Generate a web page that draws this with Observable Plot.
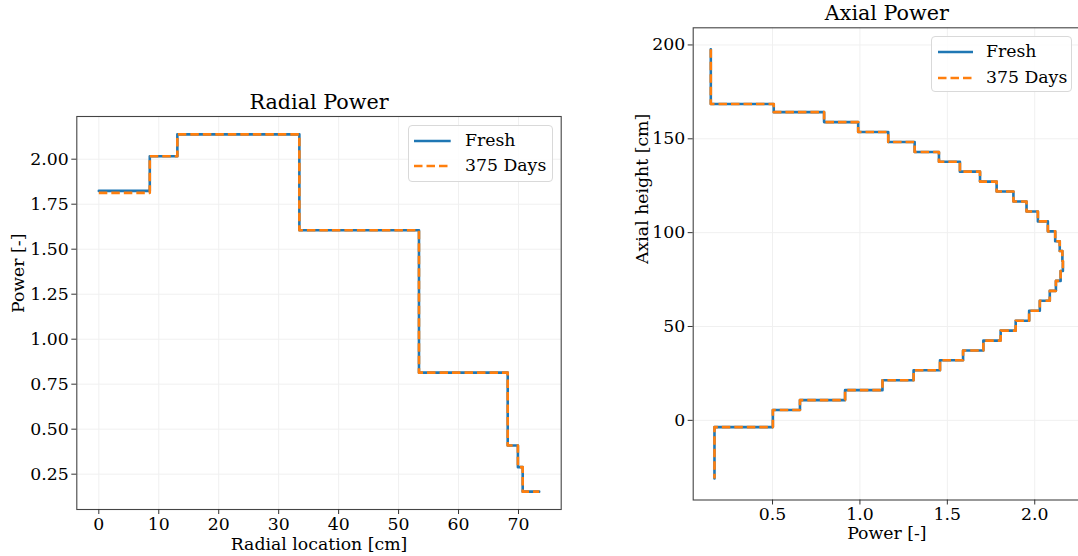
<!DOCTYPE html>
<html>
<head>
<meta charset="utf-8">
<script src="https://cdn.jsdelivr.net/npm/d3@7"></script>
<script src="https://cdn.jsdelivr.net/npm/@observablehq/plot@0.6"></script>
<style>
  html, body { margin: 0; padding: 0; background: #fff; }
  #fig { position: relative; width: 1078px; height: 556px; overflow: hidden; font-family: "DejaVu Serif", serif; }
  #fig > svg { position: absolute; top: 0; }
  .legend { position: absolute; box-sizing: border-box; background: rgba(255,255,255,0.85);
            border: 1px solid #d9d9d9; border-radius: 4px; }
  .legend .row { position: absolute; left: 0; right: 0; height: 0; }
  .legend .row svg { position: absolute; top: -3px; overflow: visible; }
  .legend .row span { position: absolute; top: 0; transform: translateY(-50%); font-size: 17.3px; color: #000; white-space: nowrap; line-height: 1; }
</style>
</head>
<body>
<div id="fig"></div>
<script>
// ---- Radial power: bin edges [cm] and relative power per bin ----
const radialEdge = [0, 8.5, 13.1, 33.45, 53.4, 68.2, 69.9, 70.7, 73.45];
const radialFresh = [1.824, 2.016, 2.138, 1.605, 0.814, 0.409, 0.289, 0.153, 0.153];
const radialDays375 = [1.813, 2.016, 2.138, 1.605, 0.814, 0.409, 0.289, 0.153, 0.153];
const radialXTicks = [0, 10, 20, 30, 40, 50, 60, 70];
const radialYTicks = [0.25, 0.5, 0.75, 1.0, 1.25, 1.5, 1.75, 2.0];

// ---- Axial power: node heights [cm], top to bottom, and power per axial node ----
const axialHeight = [197.7, 168.5, 164.2, 158.9, 153.6, 148.3, 143.0, 137.8, 132.5, 127.2,
  121.9, 116.6, 111.3, 106.0, 100.7, 95.4, 90.2, 84.9, 79.6, 74.3, 69.0, 63.7, 58.4, 53.1,
  47.8, 42.5, 37.2, 32.0, 26.7, 21.4, 16.1, 10.8, 5.5, -3.6, -31.0];
const axialFresh = [0.147, 0.507, 0.795, 0.990, 1.162, 1.313, 1.452, 1.572, 1.687, 1.782,
  1.878, 1.953, 2.018, 2.075, 2.117, 2.143, 2.158, 2.161, 2.148, 2.121, 2.086, 2.029, 1.968,
  1.891, 1.805, 1.706, 1.590, 1.458, 1.307, 1.129, 0.915, 0.657, 0.502, 0.168];
const axialDays375 = [0.147, 0.507, 0.795, 0.990, 1.162, 1.313, 1.452, 1.572, 1.687, 1.782,
  1.878, 1.953, 2.018, 2.075, 2.117, 2.143, 2.158, 2.161, 2.148, 2.121, 2.086, 2.029, 1.968,
  1.891, 1.805, 1.706, 1.590, 1.458, 1.307, 1.129, 0.915, 0.657, 0.502, 0.168];
const axialXTicks = [0.5, 1.0, 1.5, 2.0];
const axialYTicks = [0, 50, 100, 150, 200];

const seriesNames = ["Fresh", "375 Days"];
const FRESH = "#1f77b4", DAYS = "#ff7f0e";
const LW = 2.6, DASH = "8.5,4";
const FS = 17.3;

// padded extent, like matplotlib's default 5% axis margins
function padded(values) {
  const [a, b] = d3.extent(values);
  const m = (b - a) * 0.05;
  return [a - m, b + m];
}

// radial: one point per edge (step-after)
const radialPts = (vals) => radialEdge.map((x, i) => ({x, y: vals[i]}));
// axial: vertical segments at each node's power, last node closed at the bottom end
const axialPts = (vals) => {
  const pts = vals.map((p, i) => ({p, h: axialHeight[i]}));
  pts.push({p: vals[vals.length - 1], h: axialHeight[axialHeight.length - 1]});
  return pts;
};

function panel(o) {
  return Plot.plot({
    width: o.width, height: o.height,
    marginLeft: o.ml, marginRight: o.mr, marginTop: o.mt, marginBottom: o.mb,
    x: {domain: o.xDomain},
    y: {domain: o.yDomain},
    style: {fontFamily: "DejaVu Serif", fontSize: FS + "px", background: "transparent", color: "#000", overflow: "visible"},
    marks: [
      Plot.gridX(o.xTicks, {stroke: "#f0f0f0", strokeOpacity: 1, strokeWidth: 1}),
      Plot.gridY(o.yTicks, {stroke: "#f0f0f0", strokeOpacity: 1, strokeWidth: 1}),
      Plot.frame({stroke: "#444", strokeWidth: 1.1}),
      Plot.axisX(o.xTicks, {tickSize: 5, tickPadding: 3, tickFormat: o.xFmt, label: null, fontSize: FS, stroke: "#333"}),
      Plot.axisY(o.yTicks, {tickSize: 5, tickPadding: 3, tickFormat: o.yFmt, label: null, fontSize: FS, stroke: "#333"}),
      ...o.lines,
      Plot.text([o.title], {text: d => d, frameAnchor: "top", dy: -8, lineAnchor: "bottom", fontSize: 20.7}),
      Plot.text([o.xLabel], {text: d => d, frameAnchor: "bottom", dy: o.xLabelDy, lineAnchor: "middle", fontSize: FS}),
      Plot.text([o.yLabel], {text: d => d, frameAnchor: "left", dx: o.yLabelDx, rotate: -90, lineAnchor: "middle", fontSize: FS})
    ]
  });
}

const fig = document.getElementById("fig");

// Radial power panel
const left = panel({
  width: 600, height: 556, ml: 76.3, mr: 39.3, mt: 116, mb: 47,
  xDomain: padded(radialEdge),
  yDomain: padded(radialFresh.concat(radialDays375)),
  xTicks: radialXTicks, yTicks: radialYTicks,
  xFmt: d3.format("d"), yFmt: d3.format(".2f"),
  title: "Radial Power", xLabel: "Radial location [cm]", yLabel: "Power [-]",
  xLabelDy: 35, yLabelDx: -58,
  lines: [
    Plot.line(radialPts(radialFresh), {x: "x", y: "y", curve: "step-after", stroke: FRESH, strokeWidth: LW}),
    Plot.line(radialPts(radialDays375), {x: "x", y: "y", curve: "step-after", stroke: DAYS, strokeWidth: LW, strokeDasharray: DASH, strokeLinecap: "butt"})
  ]
});
left.style.left = "0px";
fig.appendChild(left);

// Axial power panel
const right = panel({
  width: 490, height: 556, ml: 92.7, mr: 10, mt: 27.3, mb: 56.5,
  xDomain: padded(axialFresh.concat(axialDays375)),
  yDomain: padded(axialHeight),
  xTicks: axialXTicks, yTicks: axialYTicks,
  xFmt: d3.format(".1f"), yFmt: d3.format("d"),
  title: "Axial Power", xLabel: "Power [-]", yLabel: "Axial height [cm]",
  xLabelDy: 33, yLabelDx: -51,
  lines: [
    Plot.line(axialPts(axialFresh), {x: "p", y: "h", curve: "step-before", stroke: FRESH, strokeWidth: LW}),
    Plot.line(axialPts(axialDays375), {x: "p", y: "h", curve: "step-before", stroke: DAYS, strokeWidth: LW, strokeDasharray: DASH, strokeLinecap: "butt"})
  ]
});
right.style.left = "600px";
fig.appendChild(right);

// Legends
function legend(box) {
  const div = document.createElement("div");
  div.className = "legend";
  Object.assign(div.style, {left: box.x + "px", top: box.y + "px", width: box.w + "px", height: box.h + "px"});
  seriesNames.forEach((name, i) => {
    const row = document.createElement("div");
    row.className = "row";
    row.style.top = box.rows[i] + "px";
    const dash = i === 1 ? `stroke-dasharray="${DASH}"` : "";
    row.innerHTML =
      `<svg width="${box.len}" height="6" style="left:${box.lx}px">` +
      `<line x1="0" y1="3" x2="${box.len}" y2="3" stroke="${i === 0 ? FRESH : DAYS}" stroke-width="${LW}" ${dash}/></svg>` +
      `<span style="left:${box.tx}px">${name}</span>`;
    div.appendChild(row);
  });
  fig.appendChild(div);
}
legend({x: 408.3, y: 124.7, w: 145, h: 57.3, rows: [15, 40.6], lx: 5, len: 36.7, tx: 55.7});
legend({x: 930.7, y: 36.3, w: 141, h: 56, rows: [15, 41], lx: 6, len: 35, tx: 54.3});
</script>
</body>
</html>
